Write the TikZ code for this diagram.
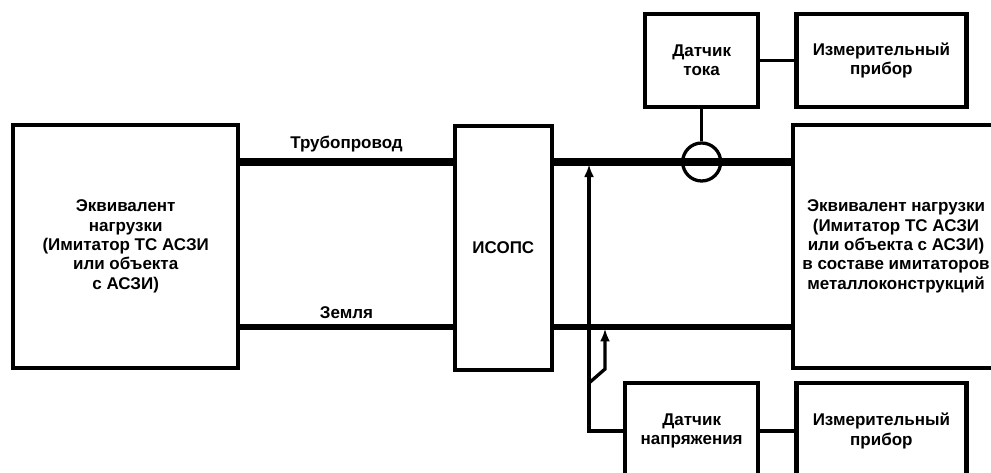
\documentclass[tikz,border=0pt]{standalone}
\usepackage{fontspec}
\setmainfont{Liberation Sans}
\usetikzlibrary{arrows.meta,positioning}
\tikzset{
  block/.style={rectangle, draw=black, line width=3.6pt, align=center, font=\bfseries\fontsize{14.5}{16.5}\selectfont, inner sep=2pt},
  loadbox/.style={block, minimum height=7.29cm},
  sensbox/.style={block, minimum height=2.79cm},
  pipeline/.style={line width=6.5pt},
  groundline/.style={line width=4.4pt},
  wire/.style={line width=2.7pt},
  lead/.style={line width=2.8pt, -{Latex[length=3.8mm,width=3mm]}},
  tag/.style={font=\bfseries\fontsize{14.5}{16.5}\selectfont, inner sep=3pt},
}

\begin{document}
\begin{tikzpicture}[node distance=1.02cm]
  \useasboundingbox (0,0) rectangle (29.73,14.16);
  \node[loadbox, minimum width=6.75cm] (load1) at (3.77,6.77) {Эквивалент\\нагрузки\\(Имитатор ТС АСЗИ\\или объекта\\с АСЗИ)};
  \node[loadbox, minimum width=2.91cm, minimum height=7.32cm] (isops) at (15.1,6.72) {ИСОПС};
  \node[loadbox, minimum width=6.18cm] (load2) at (26.88,6.77) {Эквивалент нагрузки\\(Имитатор ТС АСЗИ\\или объекта с АСЗИ)\\в составе имитаторов\\металлоконструкций};
  \node[sensbox, minimum width=3.39cm] (csens) at (21.05,12.35) {Датчик\\тока};
  \node[sensbox, minimum width=5.1cm, right=of csens] (meter1) {Измерительный\\прибор};
  \node[sensbox, minimum width=3.99cm, minimum height=2.88cm] (vsens) at (20.75,1.23) {Датчик\\напряжения};
  \node[sensbox, minimum width=5.1cm, minimum height=2.88cm, right=of vsens] (meter2) {Измерительный\\прибор};
  \coordinate (vtap) at (17.67,9.3);
  \coordinate (gtap) at (18.15,4.35);
  \coordinate (gfork) at (17.67,2.67);
  \coordinate (gbend) at (18.15,3.09);
  \node[draw, circle, line width=2.8pt, minimum size=1.14cm, inner sep=0pt] (ct) at (csens.south |- vtap) {};
  % voltage leads
  \draw[lead, shorten >=2pt] (vsens.west) -| (vtap);
  \draw[lead, shorten >=1.5pt] (gfork) -- (gbend) -- (gtap);
  % pipeline and ground
  \draw[pipeline] (load1.east |- vtap) -- node[tag, above=2pt]{Трубопровод} (isops.west |- vtap);
  \draw[groundline] (load1.east |- gtap) -- node[tag, above=2pt]{Земля} (isops.west |- gtap);
  \draw[pipeline] (isops.east |- vtap) -- (load2.west |- vtap);
  \draw[groundline] (isops.east |- gtap) -- (load2.west |- gtap);
  % sensors
  \draw[wire] (csens.south) -- (ct.north);
  \draw[wire] (csens) -- (meter1);
  \draw[wire] (vsens) -- (meter2);
\end{tikzpicture}
\end{document}
